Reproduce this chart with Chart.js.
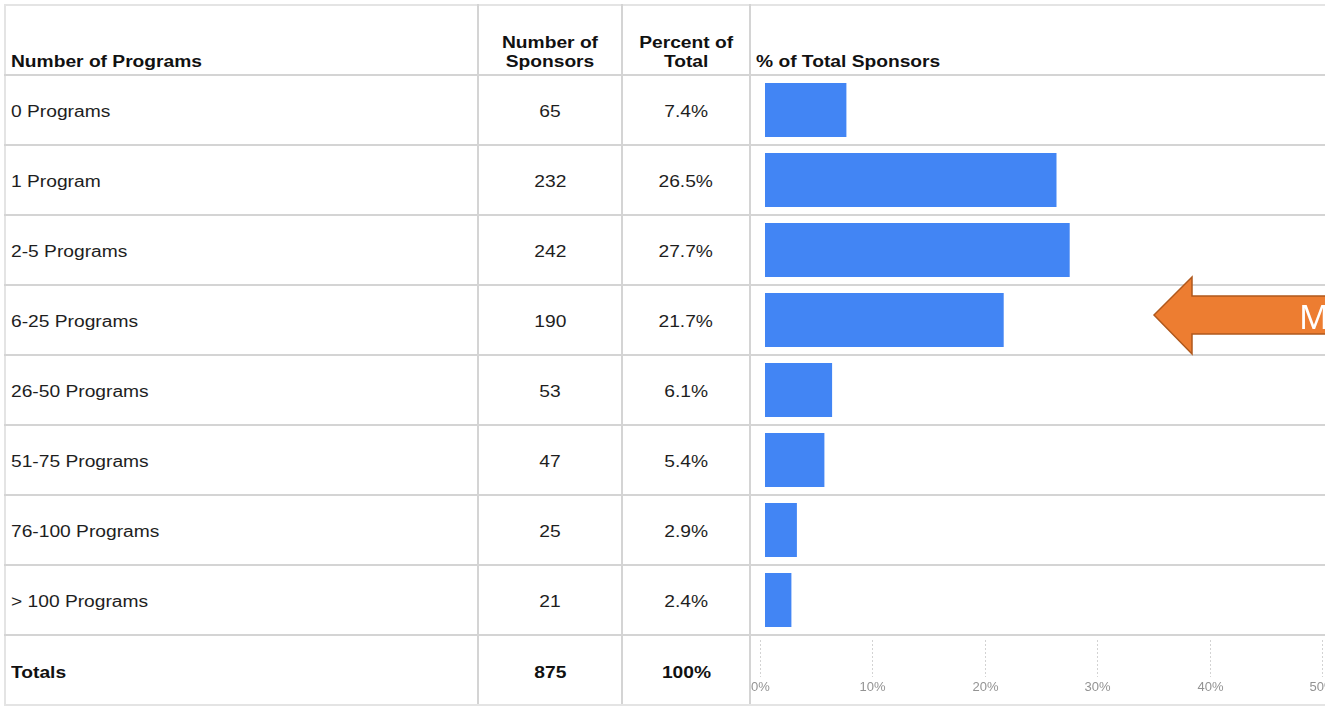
<!DOCTYPE html>
<html>
<head>
<meta charset="utf-8">
<script src="https://cdn.jsdelivr.net/npm/chart.js@4.4.1/dist/chart.umd.min.js"></script>
<style>
  html, body { margin: 0; padding: 0; background: #fff; }
  body { width: 1325px; height: 707px; overflow: hidden; position: relative; font-family: "Liberation Sans", Arial, sans-serif; }
  #sponsorTable { position: absolute; left: 4px; top: 4px; border-collapse: collapse; table-layout: fixed; width: 1450px; color: #1e1e1e; font-size: 16px; }
  #sponsorTable td { border: 2px solid #d4d4d4; padding: 3px 5px 0 5px; vertical-align: middle; white-space: nowrap; overflow: hidden; }
  #sponsorTable tr { height: 70px; }
  #sponsorTable tr.head td { vertical-align: bottom; padding: 0 5px 3px 5px; font-weight: bold; color: #111; line-height: 19px; }
  #sponsorTable tr.head td { border-top-color: #e4e4e4; }
  #sponsorTable td:first-child { border-left-color: #e4e4e4; }
  #sponsorTable tr.totals td { padding-top: 6px; font-weight: bold; color: #111; border-bottom-color: #e4e4e4; }
  #sponsorTable td.c { text-align: center; }
  .t { display: inline-block; transform: scaleX(1.2); transform-origin: left center; }
  td.c .t { transform-origin: center center; }
  canvas { position: absolute; }
  #barChart { left: 765px; top: 75px; }
  /* 目盛り行は左の縦線で切る */
  #axisBox { position: absolute; left: 751px; top: 638px; width: 620px; height: 66px; overflow: hidden; }
  #axisChart { left: -7px; top: 0; }
  #arrow { position: absolute; left: 0; top: 0; }
</style>
</head>
<body>
<table id="sponsorTable">
  <colgroup>
    <col style="width:473px">
    <col style="width:144px">
    <col style="width:128px">
    <col style="width:705px">
  </colgroup>
  <tbody id="tableBody"></tbody>
</table>
<canvas id="barChart" width="550" height="560"></canvas>
<div id="axisBox"><canvas id="axisChart" width="600" height="66"></canvas></div>
<svg id="arrow" width="1325" height="707">
  <polygon points="1154,315 1192,277 1192,296 1340,296 1340,334 1192,334 1192,354" fill="#ed7d31" stroke="#b0581c" stroke-width="1.5"/>
  <text x="1299" y="329" fill="#fff" font-family="Noto Sans, Open Sans, sans-serif" font-size="33">M</text>
</svg>
<script>
// 表のデータ
const programLabels = ["0 Programs", "1 Program", "2-5 Programs", "6-25 Programs", "26-50 Programs", "51-75 Programs", "76-100 Programs", "> 100 Programs"];
const sponsorCounts = [65, 232, 242, 190, 53, 47, 25, 21];
const percentOfTotal = [7.4, 26.5, 27.7, 21.7, 6.1, 5.4, 2.9, 2.4];
const totalLabel = "Totals";
const totalSponsors = 875;
const totalPercent = "100%";
const headerLabels = ["Number of Programs", "Number of<br>Sponsors", "Percent of<br>Total", "% of Total Sponsors"];
const axisTicks = [0, 10, 20, 30, 40, 50];

// テーブル作成
function buildTable() {
  const tbody = document.getElementById("tableBody");
  const span = (s) => `<span class="t">${s}</span>`;

  const head = document.createElement("tr");
  head.className = "head";
  head.innerHTML = `
    <td>${span(headerLabels[0])}</td>
    <td class="c">${span(headerLabels[1])}</td>
    <td class="c">${span(headerLabels[2])}</td>
    <td>${span(headerLabels[3])}</td>`;
  tbody.appendChild(head);

  programLabels.forEach((label, i) => {
    const tr = document.createElement("tr");
    tr.innerHTML = `
      <td>${span(label.replace(">", "&gt;"))}</td>
      <td class="c">${span(sponsorCounts[i])}</td>
      <td class="c">${span(percentOfTotal[i].toFixed(1) + "%")}</td>
      <td></td>`;
    tbody.appendChild(tr);
  });

  const tot = document.createElement("tr");
  tot.className = "totals";
  tot.innerHTML = `
    <td>${span(totalLabel)}</td>
    <td class="c">${span(totalSponsors)}</td>
    <td class="c">${span(totalPercent)}</td>
    <td></td>`;
  tbody.appendChild(tot);
}

buildTable();

// 各行の横棒
new Chart(document.getElementById("barChart"), {
  type: "bar",
  data: {
    labels: programLabels,
    datasets: [
      {
        data: percentOfTotal,
        backgroundColor: "#4285f4",
        borderWidth: 0,
        barPercentage: 0.77,
        categoryPercentage: 1,
      },
    ],
  },
  options: {
    indexAxis: "y",
    responsive: false,
    animation: false,
    layout: { padding: 0 },
    plugins: { legend: { display: false }, tooltip: { enabled: false } },
    scales: {
      x: { display: false, min: 0, max: 50 },
      y: { display: false },
    },
  },
});

// 合計行の目盛り：短い点線と%ラベルを x スケールの位置に描く
const tickRow = {
  id: "tickRow",
  afterDraw(chart) {
    const { ctx, chartArea } = chart;
    const x = chart.scales.x;
    ctx.save();
    ctx.strokeStyle = "#d3d3d3";
    ctx.lineWidth = 1;
    ctx.setLineDash([2, 2]);
    ctx.fillStyle = "#939393";
    ctx.font = '13px "Liberation Sans", Arial, sans-serif';
    ctx.textAlign = "center";
    ctx.textBaseline = "middle";
    axisTicks.forEach((v) => {
      const px = Math.round(x.getPixelForValue(v)) + 0.5;
      ctx.beginPath();
      ctx.moveTo(px, chartArea.top);
      ctx.lineTo(px, chartArea.top + 37);
      ctx.stroke();
      ctx.fillText(v + "%", px, chartArea.top + 47);
    });
    ctx.restore();
  },
};

new Chart(document.getElementById("axisChart"), {
  type: "bar",
  data: { labels: [""], datasets: [] },
  plugins: [tickRow],
  options: {
    indexAxis: "y",
    responsive: false,
    animation: false,
    layout: { padding: { left: 16, right: 22, top: 2, bottom: 0 } },
    plugins: { legend: { display: false }, tooltip: { enabled: false } },
    scales: {
      y: { display: false },
      x: { display: false, min: 0, max: 50 },
    },
  },
});
</script>
</body>
</html>
